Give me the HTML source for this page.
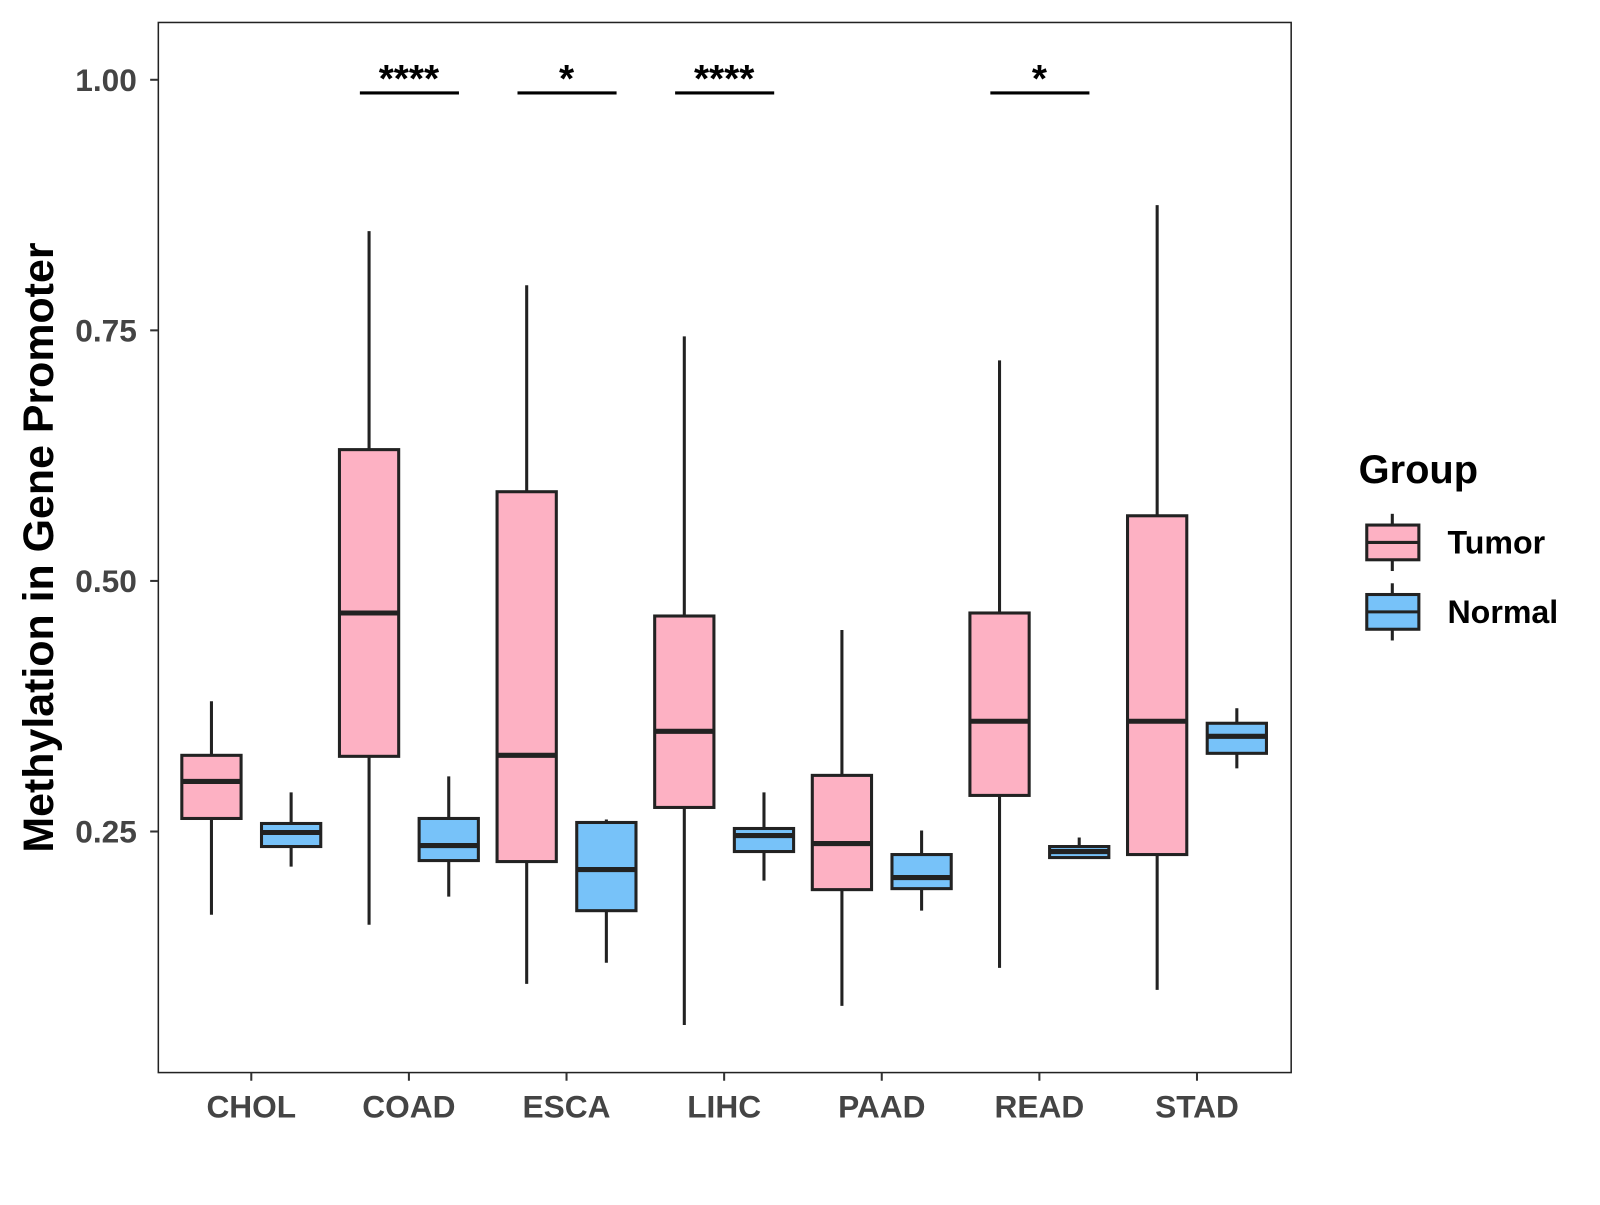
<!DOCTYPE html>
<html><head><meta charset="utf-8"><style>
body{margin:0;background:#fff;}
svg text{font-family:"Liberation Sans",Arial,sans-serif;}
</style></head><body>
<svg id="chart" width="1600" height="1200" viewBox="0 0 1600 1200">
<rect x="0" y="0" width="1600" height="1200" fill="#fff"/>
<g id="root" transform="scale(1.0215)"></g>
</svg>
<script>
const categories=["CHOL","COAD","ESCA","LIHC","PAAD","READ","STAD"];
const tumorLow=[0.167,0.157,0.098,0.057,0.076,0.114,0.092];
const tumorQ1=[0.263,0.325,0.220,0.274,0.192,0.286,0.227];
const tumorMed=[0.300,0.468,0.326,0.350,0.238,0.360,0.360];
const tumorQ3=[0.326,0.631,0.589,0.465,0.306,0.468,0.565];
const tumorHigh=[0.380,0.849,0.795,0.744,0.451,0.720,0.875];
const normalLow=[0.215,0.185,0.119,0.201,0.171,0.224,0.313];
const normalQ1=[0.235,0.221,0.171,0.230,0.193,0.224,0.328];
const normalMed=[0.249,0.236,0.212,0.246,0.204,0.230,0.345];
const normalQ3=[0.258,0.263,0.259,0.253,0.227,0.235,0.358];
const normalHigh=[0.289,0.305,0.262,0.289,0.251,0.244,0.373];
const sigLabels=["","****","*","****","","*",""];
const yTicks=[0.25,0.50,0.75,1.00];
const yTickLabels=["0.25","0.50","0.75","1.00"];

const svg=document.getElementById('root');
const NS="http://www.w3.org/2000/svg";
const y=v=>814-(v-0.25)*981.2;
const x=i=>246+i*154.3;
function mk(tag,attrs,parent){const e=document.createElementNS(NS,tag);for(const k in attrs)e.setAttribute(k,attrs[k]);(parent||svg).appendChild(e);return e;}

const panel=mk('rect',{x:155,y:22,width:1109,height:1028,fill:'none',stroke:'#222','stroke-width':1.5});



yTicks.forEach((t,i)=>{
  const tk=mk('line',{x1:147,x2:155,y1:y(t),y2:y(t),stroke:'#333','stroke-width':2});
  
  
  const tx=mk('text',{x:134,y:y(t)+11,'text-anchor':'end','font-size':31,'font-weight':'bold',fill:'#444'});
  tx.textContent=yTickLabels[i];
  
  
});

function box(cx,lo,q1,md,q3,hi,fill,name){
  const g=mk('g',{});
  
  
  mk('line',{x1:cx,x2:cx,y1:y(hi),y2:y(lo),stroke:'#222','stroke-width':3},g);
  mk('rect',{x:cx-29,y:y(q3),width:58,height:y(q1)-y(q3),fill:fill,stroke:'#222','stroke-width':3},g);
  mk('line',{x1:cx-29,x2:cx+29,y1:y(md),y2:y(md),stroke:'#222','stroke-width':5},g);
}

categories.forEach((c,i)=>{
  box(x(i)-39,tumorLow[i],tumorQ1[i],tumorMed[i],tumorQ3[i],tumorHigh[i],'#FDB1C3','box-tumor-'+c.toLowerCase());
  box(x(i)+39,normalLow[i],normalQ1[i],normalMed[i],normalQ3[i],normalHigh[i],'#77C2F9','box-normal-'+c.toLowerCase());
  const tk=mk('line',{x1:x(i),x2:x(i),y1:1050,y2:1058,stroke:'#333','stroke-width':2});
  
  
  const tx=mk('text',{x:x(i),y:1094,'text-anchor':'middle','font-size':31,'font-weight':'bold',fill:'#444'});
  tx.textContent=c;
  
  
  if(sigLabels[i]){
    const l=mk('line',{x1:x(i)-48,x2:x(i)+49,y1:91,y2:91,stroke:'#000','stroke-width':3});
    
    
    const s=mk('text',{x:x(i),y:90,'text-anchor':'middle','font-size':38,'font-weight':'bold',fill:'#000'});
    s.textContent=sigLabels[i];
    
    
  }
});

const yt=mk('text',{x:0,y:0,transform:'translate(52,536) rotate(-90)','text-anchor':'middle','font-size':42,'font-weight':'bold',fill:'#000'});
yt.textContent='Methylation in Gene Promoter';



const lt=mk('text',{x:1330,y:473,'font-size':39,'font-weight':'bold',fill:'#000'});
lt.textContent='Group';


[["Tumor","#FDB1C3",531],["Normal","#77C2F9",599]].forEach(([n,f,cy])=>{
  const g=mk('g',{});
  
  
  mk('line',{x1:1363,x2:1363,y1:cy-28,y2:cy+28,stroke:'#222','stroke-width':3},g);
  mk('rect',{x:1338,y:cy-17,width:51,height:34,fill:f,stroke:'#222','stroke-width':3},g);
  mk('line',{x1:1338,x2:1389,y1:cy,y2:cy,stroke:'#222','stroke-width':3},g);
  const t=mk('text',{x:1417,y:cy+11,'font-size':31.5,'font-weight':'bold',fill:'#000'},g);
  t.textContent=n;
});
</script>
</body></html>
